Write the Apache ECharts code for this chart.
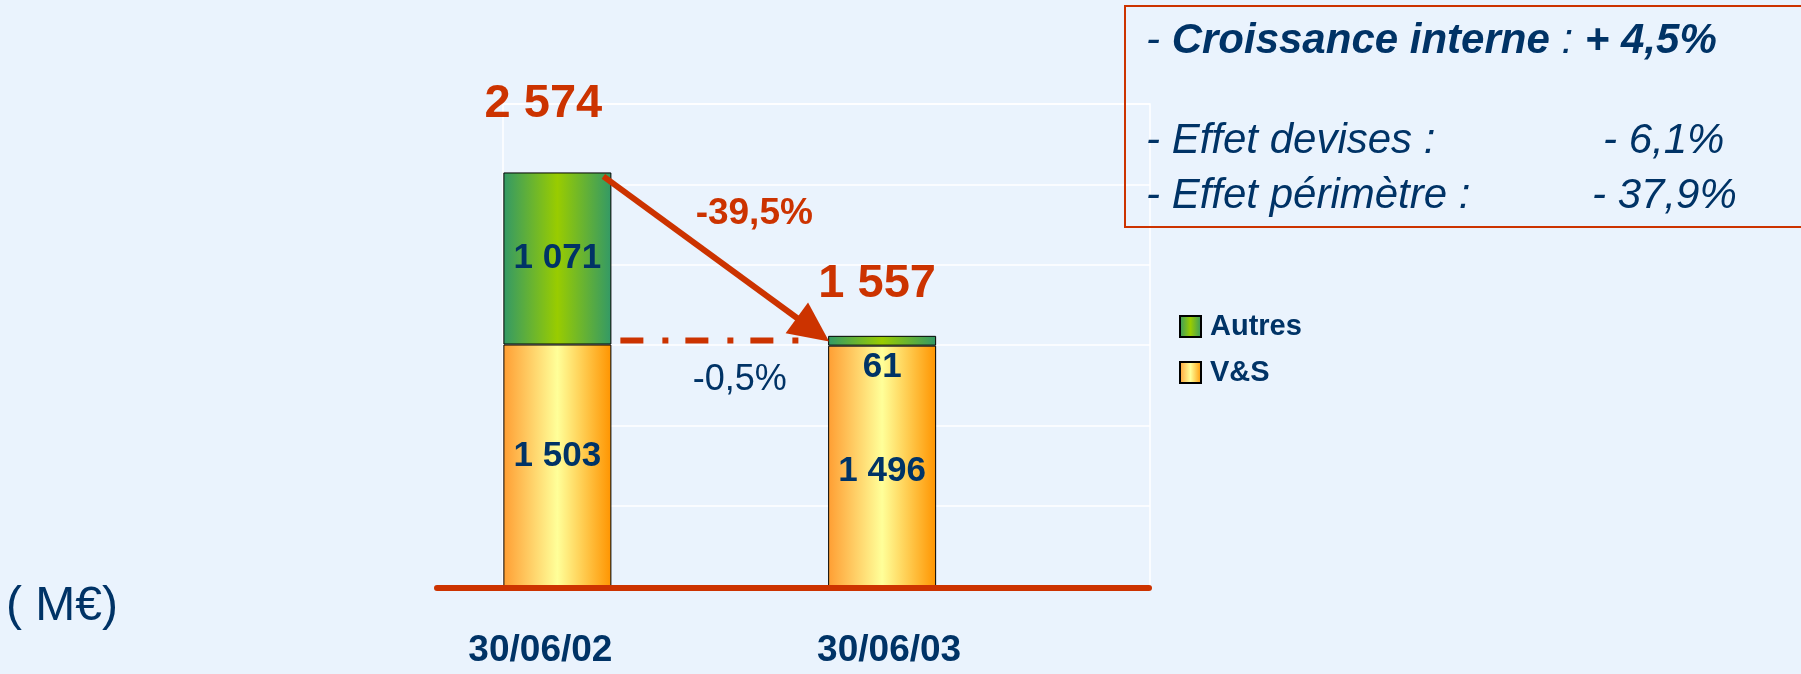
<!DOCTYPE html>
<html>
<head>
<meta charset="utf-8">
<script src="https://cdn.jsdelivr.net/npm/echarts@6/dist/echarts.min.js"></script>
<style>
  html, body { margin: 0; padding: 0; background: #EAF3FD; }
  #chart { width: 1801px; height: 674px; }
</style>
</head>
<body>
<div id="chart"></div>
<script>
// ── Data ──────────────────────────────────────────────────────────────────────
const categories   = ['30/06/02', '30/06/03'];
const vsValues     = [1503, 1496];
const autresValues = [1071, 61];
const totals       = [2574, 1557];
const changeTotal  = '-39,5%';
const changeVS     = '-0,5%';
const unitLabel    = '( M€)';
const breakdownLabels = ['Croissance interne', 'Effet devises', 'Effet périmètre'];
const breakdownValues = ['+ 4,5%', '- 6,1%', '- 37,9%'];

// ── Style ─────────────────────────────────────────────────────────────────────
const NAVY = '#003366';
const RED  = '#CC3300';
const FONT = '"Liberation Sans", Arial, sans-serif';

const fmt = v => String(v).replace(/\B(?=(\d{3})+(?!\d))/g, ' ');

const gradVS = new echarts.graphic.LinearGradient(0, 0, 1, 0, [
  { offset: 0, color: '#FF9E33' }, { offset: 0.5, color: '#FFFF99' }, { offset: 1, color: '#FF9400' }
]);
const gradAutres = new echarts.graphic.LinearGradient(0, 0, 1, 0, [
  { offset: 0, color: '#339966' }, { offset: 0.5, color: '#99CC00' }, { offset: 1, color: '#339966' }
]);

const chart = echarts.init(document.getElementById('chart'), null, { renderer: 'canvas' });

const option = {
  backgroundColor: '#EAF3FD',
  animation: false,
  grid: [
    // bars
    { left: 395, right: 756.5, top: 104, bottom: 88 },
    // frame + gridlines
    { left: 503, right: 651, top: 104, bottom: 88, show: true, borderColor: '#FFFFFF', borderWidth: 1.5, backgroundColor: 'transparent' },
    // red baseline
    { left: 437, right: 652, top: 104, bottom: 86 }
  ],
  xAxis: [
    {
      gridIndex: 0, type: 'category', data: categories,
      axisLine: { show: false }, axisTick: { show: false },
      axisLabel: {
        margin: 46,
        formatter: (v, i) => i === 0 ? `{a|${v}}` : `{b|${v}}`,
        rich: {
          a: { color: NAVY, fontSize: 37, fontWeight: 'bold', fontFamily: FONT, padding: [0, 34, 0, 0] },
          b: { color: NAVY, fontSize: 37, fontWeight: 'bold', fontFamily: FONT, padding: [0, 0, 0, 14] }
        }
      }
    },
    { gridIndex: 1, type: 'value', show: false, min: 0, max: 1 },
    {
      gridIndex: 2, type: 'value', min: 0, max: 1, z: 5,
      axisLine: { show: true, lineStyle: { color: RED, width: 6 } },
      axisTick: { show: false }, axisLabel: { show: false }, splitLine: { show: false }
    }
  ],
  yAxis: [
    { gridIndex: 0, type: 'value', min: 0, max: 3000, interval: 500, show: false },
    {
      gridIndex: 1, type: 'value', min: 0, max: 3000, interval: 500,
      axisLine: { show: false }, axisTick: { show: false }, axisLabel: { show: false },
      splitLine: { show: true, lineStyle: { color: '#FFFFFF', width: 1.5 } }
    },
    { gridIndex: 2, type: 'value', min: 0, max: 1, show: false }
  ],
  legend: {
    data: ['Autres', 'V&S'],
    orient: 'vertical', left: 1174, top: 307,
    icon: 'rect', itemWidth: 21, itemHeight: 21, itemGap: 17,
    textStyle: { color: NAVY, fontSize: 29, fontWeight: 'bold', fontFamily: FONT, padding: [0, 0, 0, 4] }
  },
  series: [
    {
      name: 'V&S', type: 'bar', stack: 'total', barWidth: 108,
      xAxisIndex: 0, yAxisIndex: 0,
      itemStyle: { color: gradVS, borderColor: '#000', borderWidth: 1 },
      label: {
        show: true, position: 'inside', formatter: p => fmt(p.value),
        color: NAVY, fontSize: 35, fontWeight: 'bold', fontFamily: FONT, textBorderWidth: 0
      },
      data: vsValues.map((v, i) => ({ value: v, label: { offset: [0, i === 0 ? -9 : 6] } }))
    },
    {
      name: 'Autres', type: 'bar', stack: 'total', barWidth: 108,
      xAxisIndex: 0, yAxisIndex: 0,
      itemStyle: { color: gradAutres, borderColor: '#000', borderWidth: 1 },
      label: {
        show: true, position: 'inside', formatter: p => fmt(p.value),
        color: NAVY, fontSize: 35, fontWeight: 'bold', fontFamily: FONT, textBorderWidth: 0
      },
      // small segment: label sits just under it, inside the V&S bar
      data: autresValues.map((v, i) => i === 1 ? { value: v, label: { position: 'bottom', distance: 4 } } : v)
    },
    {
      name: 'Total', type: 'scatter', xAxisIndex: 0, yAxisIndex: 0,
      symbol: 'rect', symbolSize: 1, silent: true, z: 5,
      itemStyle: { color: 'rgba(0,0,0,0)', opacity: 1 },
      label: {
        show: true, position: 'inside', formatter: p => fmt(p.value),
        color: RED, fontSize: 47, fontWeight: 'bold', fontFamily: FONT,
        textBorderWidth: 0, textBorderColor: 'transparent'
      },
      data: totals.map((v, i) => ({ value: v, label: { offset: i === 0 ? [-14, -68] : [-5, -52] } }))
    }
  ]
};

chart.setOption(option);

// ── Annotations (positions derived from the bar scale) ────────────────────────
const px = (i, v) => chart.convertToPixel({ xAxisIndex: 0, yAxisIndex: 0 }, [i, v]);
const half = 54;
const top1 = px(0, totals[0]);
const top2 = px(1, totals[1]);
const vs1  = px(0, vsValues[0]);

const start = [top1[0] + half - 8, top1[1] + 4];
const tip   = [top2[0] - half + 1, vs1[1] - 3];
const dx = tip[0] - start[0], dy = tip[1] - start[1];
const len = Math.hypot(dx, dy);
const ux = dx / len, uy = dy / len;
const headLen = 40, headHalf = 19;
const base = [tip[0] - ux * headLen, tip[1] - uy * headLen];
const dashY = vs1[1] - 4;
const dashX0 = vs1[0] + half + 9;
const dashX1 = top2[0] - half - 29;

const italic = { fontStyle: 'italic', fontSize: 42, fill: NAVY, fontFamily: FONT };

chart.setOption({
  graphic: [
    // arrow
    { type: 'line', z: 20, shape: { x1: start[0], y1: start[1], x2: base[0] + ux * 4, y2: base[1] + uy * 4 },
      style: { stroke: RED, lineWidth: 6 } },
    { type: 'polygon', z: 20,
      shape: { points: [tip, [base[0] - uy * headHalf, base[1] + ux * headHalf], [base[0] + uy * headHalf, base[1] - ux * headHalf]] },
      style: { fill: RED } },
    // dash-dot comparison line
    { type: 'line', z: 20, shape: { x1: dashX0, y1: dashY, x2: dashX1, y2: dashY },
      style: { stroke: RED, lineWidth: 6, lineDash: [23, 19, 6, 17] } },
    { type: 'text', z: 20, x: (start[0] + tip[0]) / 2 + 38, y: (start[1] + tip[1]) / 2 - 45,
      style: { text: changeTotal, fill: RED, fontSize: 37, fontWeight: 'bold', fontFamily: FONT, align: 'center', verticalAlign: 'middle' } },
    { type: 'text', z: 20, x: (dashX0 + dashX1) / 2 + 30, y: dashY + 40,
      style: { text: changeVS, fill: NAVY, fontSize: 36, fontFamily: FONT, align: 'center', verticalAlign: 'middle' } },
    // unit
    { type: 'text', x: 6, y: 607,
      style: { text: unitLabel, fill: NAVY, fontSize: 48, fontFamily: FONT, verticalAlign: 'middle' } },
    // breakdown box
    { type: 'rect', z: 20, shape: { x: 1125, y: 6, width: 720, height: 221 },
      style: { fill: 'none', stroke: RED, lineWidth: 2 } },
    { type: 'text', z: 21, x: 1146, y: 41,
      style: {
        text: `{r|- }{b|${breakdownLabels[0]}}{r| : }{b|${breakdownValues[0]}}`,
        verticalAlign: 'middle',
        rich: {
          r: Object.assign({}, italic),
          b: Object.assign({}, italic, { fontWeight: 'bold' })
        }
      } },
    { type: 'text', z: 21, x: 1146, y: 141, style: Object.assign({ text: `- ${breakdownLabels[1]} :`, verticalAlign: 'middle' }, italic) },
    { type: 'text', z: 21, x: 1603, y: 141, style: Object.assign({ text: breakdownValues[1], verticalAlign: 'middle' }, italic) },
    { type: 'text', z: 21, x: 1146, y: 196, style: Object.assign({ text: `- ${breakdownLabels[2]} :`, verticalAlign: 'middle' }, italic) },
    { type: 'text', z: 21, x: 1592, y: 196, style: Object.assign({ text: breakdownValues[2], verticalAlign: 'middle' }, italic) }
  ]
});
</script>
</body>
</html>
